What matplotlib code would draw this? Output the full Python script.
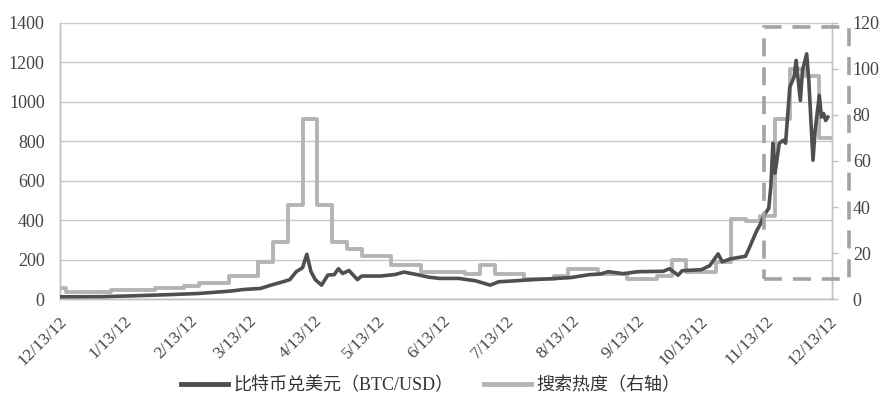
import pandas as pd
import matplotlib.pyplot as plt
import matplotlib.dates as mdates
import matplotlib.transforms as mtransforms
from matplotlib.patches import Rectangle

# BTC/USD price (left axis)
price_dates = ['2012-12-13', '2013-01-01', '2013-01-17', '2013-02-03', '2013-02-17', '2013-03-04',
               '2013-03-10', '2013-03-18', '2013-03-23', '2013-03-29', '2013-04-01', '2013-04-04',
               '2013-04-07', '2013-04-09', '2013-04-11', '2013-04-13', '2013-04-16', '2013-04-19',
               '2013-04-22', '2013-04-24', '2013-04-26', '2013-04-29', '2013-05-03', '2013-05-05',
               '2013-05-14', '2013-05-21', '2013-05-25', '2013-05-30', '2013-06-06', '2013-06-11',
               '2013-06-20', '2013-06-28', '2013-07-05', '2013-07-09', '2013-07-14', '2013-07-24',
               '2013-08-02', '2013-08-12', '2013-08-21', '2013-08-26', '2013-08-30', '2013-09-06',
               '2013-09-13', '2013-09-25', '2013-09-28', '2013-10-02', '2013-10-04', '2013-10-13',
               '2013-10-17', '2013-10-21', '2013-10-23', '2013-10-27', '2013-11-03', '2013-11-05',
               '2013-11-08', '2013-11-10', '2013-11-12', '2013-11-14', '2013-11-15', '2013-11-16',
               '2013-11-17', '2013-11-19', '2013-11-21', '2013-11-22', '2013-11-24', '2013-11-26',
               '2013-11-27', '2013-11-29', '2013-11-30', '2013-12-02', '2013-12-03', '2013-12-05',
               '2013-12-06', '2013-12-08', '2013-12-09', '2013-12-10', '2013-12-11', '2013-12-12']
price_values = [13, 13.5, 18, 24, 30, 42,
                50, 55, 72, 90, 100, 140,
                160, 228, 140, 100, 72, 123,
                125, 155, 131, 146, 100, 118,
                118, 126, 138, 128, 112, 106,
                106, 94, 72, 89, 92, 99,
                104, 110, 125, 128, 140, 130,
                140, 142, 155, 122, 145, 150,
                170, 230, 190, 205, 218, 265,
                340, 380, 430, 460, 570, 790,
                638, 790, 805, 790, 1074, 1124,
                1209, 1006, 1158, 1242, 1108, 704,
                855, 1032, 922, 940, 905, 922]

# weekly search interest (right axis), weeks start on Sunday
search_start = '2012-12-09'
search_values = [5, 3, 3, 3, 4, 4, 4, 5, 5, 6, 7, 7, 10, 10, 16, 25, 41, 78, 41, 25,
                 22, 19, 19, 15, 15, 12, 12, 12, 11, 15, 11, 11, 9, 9, 10, 13, 13, 11,
                 11, 9, 9, 10, 17, 12, 12, 16, 35, 34, 36, 78, 100, 97, 70]

tick_dates = ['2012-12-13', '2013-01-13', '2013-02-13', '2013-03-13', '2013-04-13', '2013-05-13',
              '2013-06-13', '2013-07-13', '2013-08-13', '2013-09-13', '2013-10-13', '2013-11-13',
              '2013-12-13']
tick_labels = ['12/13/12', '1/13/12', '2/13/12', '3/13/12', '4/13/12', '5/13/12', '6/13/12',
               '7/13/12', '8/13/12', '9/13/12', '10/13/12', '11/13/12', '12/13/12']

# highlight box (dashed) around the late spike
box_start, box_end = '2013-11-12', '2013-12-22'
box_low, box_high = 8.7, 118.3

dark = '#4f4f4f'
light = '#b4b4b4'
serif = 'Liberation Serif'

fig = plt.figure(figsize=(8.85, 4.04), dpi=100)
ax = fig.add_axes([0.0678, 0.259, 0.8723, 0.685])
ax2 = ax.twinx()

px = pd.to_datetime(price_dates)
sx = pd.date_range(search_start, periods=len(search_values), freq='7D')
x_end = pd.Timestamp('2013-12-14')

# search line drawn on right axis, behind price
sx_ext = list(sx) + [x_end]
sv_ext = search_values + [search_values[-1]]
ax2.step(sx_ext, sv_ext, where='post', color=light, lw=2.8, zorder=2)
ax2.plot(px, [v * 120 / 1400 for v in price_values], color=dark, lw=2.6, zorder=3)

ax.set_xlim(pd.Timestamp('2012-12-13'), x_end)
ax.set_ylim(0, 1400)
ax2.set_ylim(0, 120)
ax.set_yticks(range(0, 1401, 200))
ax2.set_yticks(range(0, 121, 20))
ax.grid(axis='y', color='#c8c8c8', lw=1)
ax.set_axisbelow(True)

for a in (ax, ax2):
    for s in a.spines.values():
        s.set_color('#c0c0c0')
        s.set_linewidth(1)
    a.spines['top'].set_visible(False)

ax.tick_params(axis='y', length=0, pad=11, labelsize=13, labelcolor='#444444')
ax2.tick_params(axis='y', length=4, width=1, color='#c0c0c0', pad=11, labelsize=13,
                labelcolor='#444444')
for lab in ax.get_yticklabels() + ax2.get_yticklabels():
    lab.set_fontfamily(serif)

ax.set_xticks(pd.to_datetime(tick_dates))
ax.set_xticklabels(tick_labels, rotation=45, ha='right', va='top', fontfamily=serif,
                   fontsize=12.5, color='#444444')
ax.tick_params(axis='x', length=0, pad=10)
shift = mtransforms.ScaledTranslation(10 / 100, 0, fig.dpi_scale_trans)
for lab in ax.get_xticklabels():
    lab.set_transform(lab.get_transform() + shift)

# dashed box
b0 = mdates.date2num(pd.Timestamp(box_start))
b1 = mdates.date2num(pd.Timestamp(box_end))
rect = Rectangle((b0, box_low), b1 - b0, box_high - box_low, fill=False,
                 edgecolor='#a3a3a3', lw=2.6, linestyle=(0, (5, 3)), clip_on=False, zorder=4)
ax2.add_patch(rect)

h1, = ax.plot([], [], color=dark, lw=3.5, label='比特币兑美元（BTC/USD）')
h2, = ax.plot([], [], color=light, lw=3.5, label='搜索热度（右轴）')
leg = fig.legend(handles=[h1, h2], loc='center', bbox_to_anchor=(0.487, 1 - 386 / 404),
                 ncol=2, frameon=False, handlelength=2.6, handletextpad=0.3,
                 columnspacing=1.7, prop={'family': [serif, 'Noto Sans CJK SC'], 'size': 13})
for t in leg.get_texts():
    t.set_color('#333333')

fig.savefig('out.png', dpi=100)
